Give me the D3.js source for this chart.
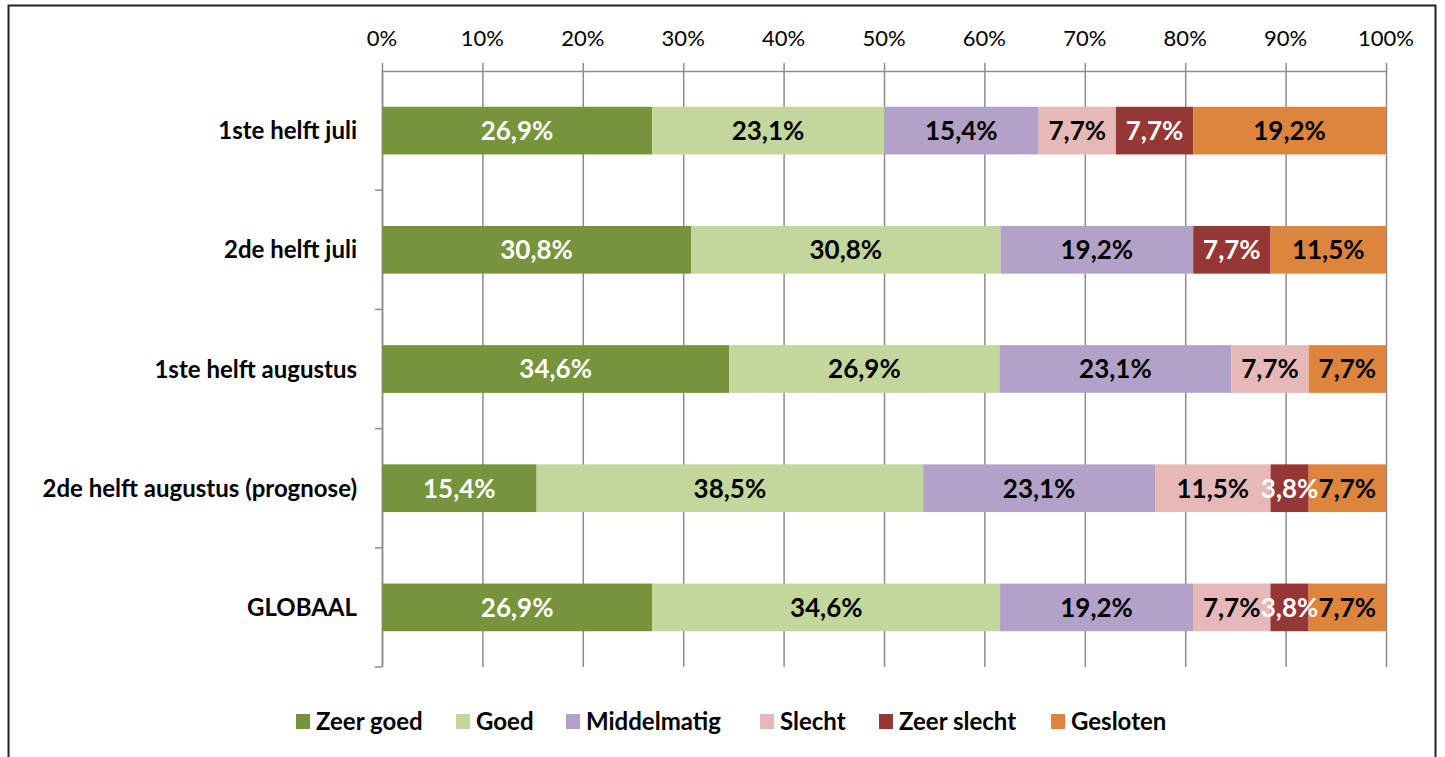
<!DOCTYPE html>
<html>
<head>
<meta charset="utf-8">
<script src="https://cdn.jsdelivr.net/npm/d3@7"></script>
<style>
  body { margin: 0; background: #fff; }
  text { font-family: Lato, "Open Sans", sans-serif; }
</style>
</head>
<body>
<div id="chart"></div>
<script>
// categories and series
const categories = ['1ste helft juli', '2de helft juli', '1ste helft augustus', '2de helft augustus (prognose)', 'GLOBAAL'];
const seriesNames = ['Zeer goed', 'Goed', 'Middelmatig', 'Slecht', 'Zeer slecht', 'Gesloten'];
const zeerGoed   = [26.9, 30.8, 34.6, 15.4, 26.9];
const goed       = [23.1, 30.8, 26.9, 38.5, 34.6];
const middelmatig = [15.4, 19.2, 23.1, 23.1, 19.2];
const slecht     = [7.7, 0, 7.7, 11.5, 7.7];
const zeerSlecht = [7.7, 7.7, 0, 3.8, 3.8];
const gesloten   = [19.2, 11.5, 7.7, 7.7, 7.7];
const xTicks = [0, 10, 20, 30, 40, 50, 60, 70, 80, 90, 100];

const seriesValues = [zeerGoed, goed, middelmatig, slecht, zeerSlecht, gesloten];
const colors = ['#77933c', '#c3d69b', '#b3a2c7', '#e6b9b8', '#953735', '#dd843d'];
const labelColors = ['#fff', '#000', '#000', '#000', '#fff', '#000'];

const W = 1445, H = 757;
const svg = d3.select('#chart').append('svg').attr('width', W).attr('height', H);

// chart border (bottom runs off the picture)
svg.append('path')
  .attr('d', `M8.5,${H + 2} L8.5,5.5 L1435.5,5.5 L1435.5,${H + 2}`)
  .attr('fill', 'none').attr('stroke', '#222').attr('stroke-width', 2);

const x = d3.scaleLinear().domain([0, 100]).range([382, 1386]);
const y = d3.scaleBand().domain(categories).range([71, 667]).paddingInner(0.6).paddingOuter(0.3);

// gridlines
svg.append('g').selectAll('line').data(xTicks).join('line')
  .attr('x1', d => x(d) + 0.5).attr('x2', d => x(d) + 0.5)
  .attr('y1', 63).attr('y2', 667)
  .attr('stroke', '#8c8c8c').attr('stroke-width', 1.5);

// top axis line
svg.append('line').attr('x1', x(0)).attr('x2', x(100)).attr('y1', 71.5).attr('y2', 71.5)
  .attr('stroke', '#8c8c8c').attr('stroke-width', 1.5);

// tick labels
svg.append('g').selectAll('text').data(xTicks).join('text')
  .attr('x', d => x(d)).attr('y', 46)
  .attr('text-anchor', 'middle').attr('font-size', 22).attr('fill', '#000')
  .text(d => d + '%');

// left axis with category ticks
const catTicks = d3.range(categories.length + 1).map(i => 71 + i * (596 / categories.length));
svg.append('line').attr('x1', x(0) + 0.5).attr('x2', x(0) + 0.5).attr('y1', 71).attr('y2', 667)
  .attr('stroke', '#8c8c8c').attr('stroke-width', 1.5);
svg.append('g').selectAll('line').data(catTicks.slice(1)).join('line')
  .attr('x1', x(0) - 7).attr('x2', x(0))
  .attr('y1', d => d).attr('y2', d => d)
  .attr('stroke', '#8c8c8c').attr('stroke-width', 1.5);

// stacked (100%) data
const rows = categories.map((c, i) => {
  const vals = seriesValues.map(s => s[i]);
  const total = d3.sum(vals);
  let acc = 0;
  return vals.map((v, k) => {
    const seg = { cat: c, k, v, x0: acc / total * 100, x1: (acc + v) / total * 100 };
    acc += v;
    return seg;
  });
});
const segs = rows.flat().filter(d => d.v > 0);

svg.append('g').selectAll('rect').data(segs).join('rect')
  .attr('x', d => x(d.x0)).attr('width', d => x(d.x1) - x(d.x0))
  .attr('y', d => y(d.cat)).attr('height', y.bandwidth())
  .attr('fill', d => colors[d.k]);

svg.append('g').selectAll('text').data(segs).join('text')
  .attr('x', d => (x(d.x0) + x(d.x1)) / 2)
  .attr('y', d => y(d.cat) + y.bandwidth() / 2)
  .attr('dy', '0.36em')
  .attr('text-anchor', 'middle')
  .attr('font-size', 26).attr('font-weight', 'bold')
  .attr('fill', d => labelColors[d.k])
  .text(d => d.v.toFixed(1).replace('.', ',') + '%');

// category labels
svg.append('g').selectAll('text').data(categories).join('text')
  .attr('x', 357).attr('y', d => y(d) + y.bandwidth() / 2)
  .attr('dy', '0.36em').attr('text-anchor', 'end')
  .attr('font-size', 24).attr('font-weight', 'bold').attr('fill', '#000')
  .text(d => d);

// legend
const legendX = [296, 456, 566, 760, 879, 1051];
const lg = svg.append('g').selectAll('g').data(seriesNames).join('g')
  .attr('transform', (d, i) => `translate(${legendX[i]},714)`);
lg.append('rect').attr('width', 14).attr('height', 15).attr('fill', (d, i) => colors[i]);
lg.append('text').attr('x', 20).attr('y', 7.5).attr('dy', '0.36em')
  .attr('font-size', 24).attr('font-weight', 'bold').attr('fill', '#000')
  .text(d => d);
</script>
</body>
</html>
